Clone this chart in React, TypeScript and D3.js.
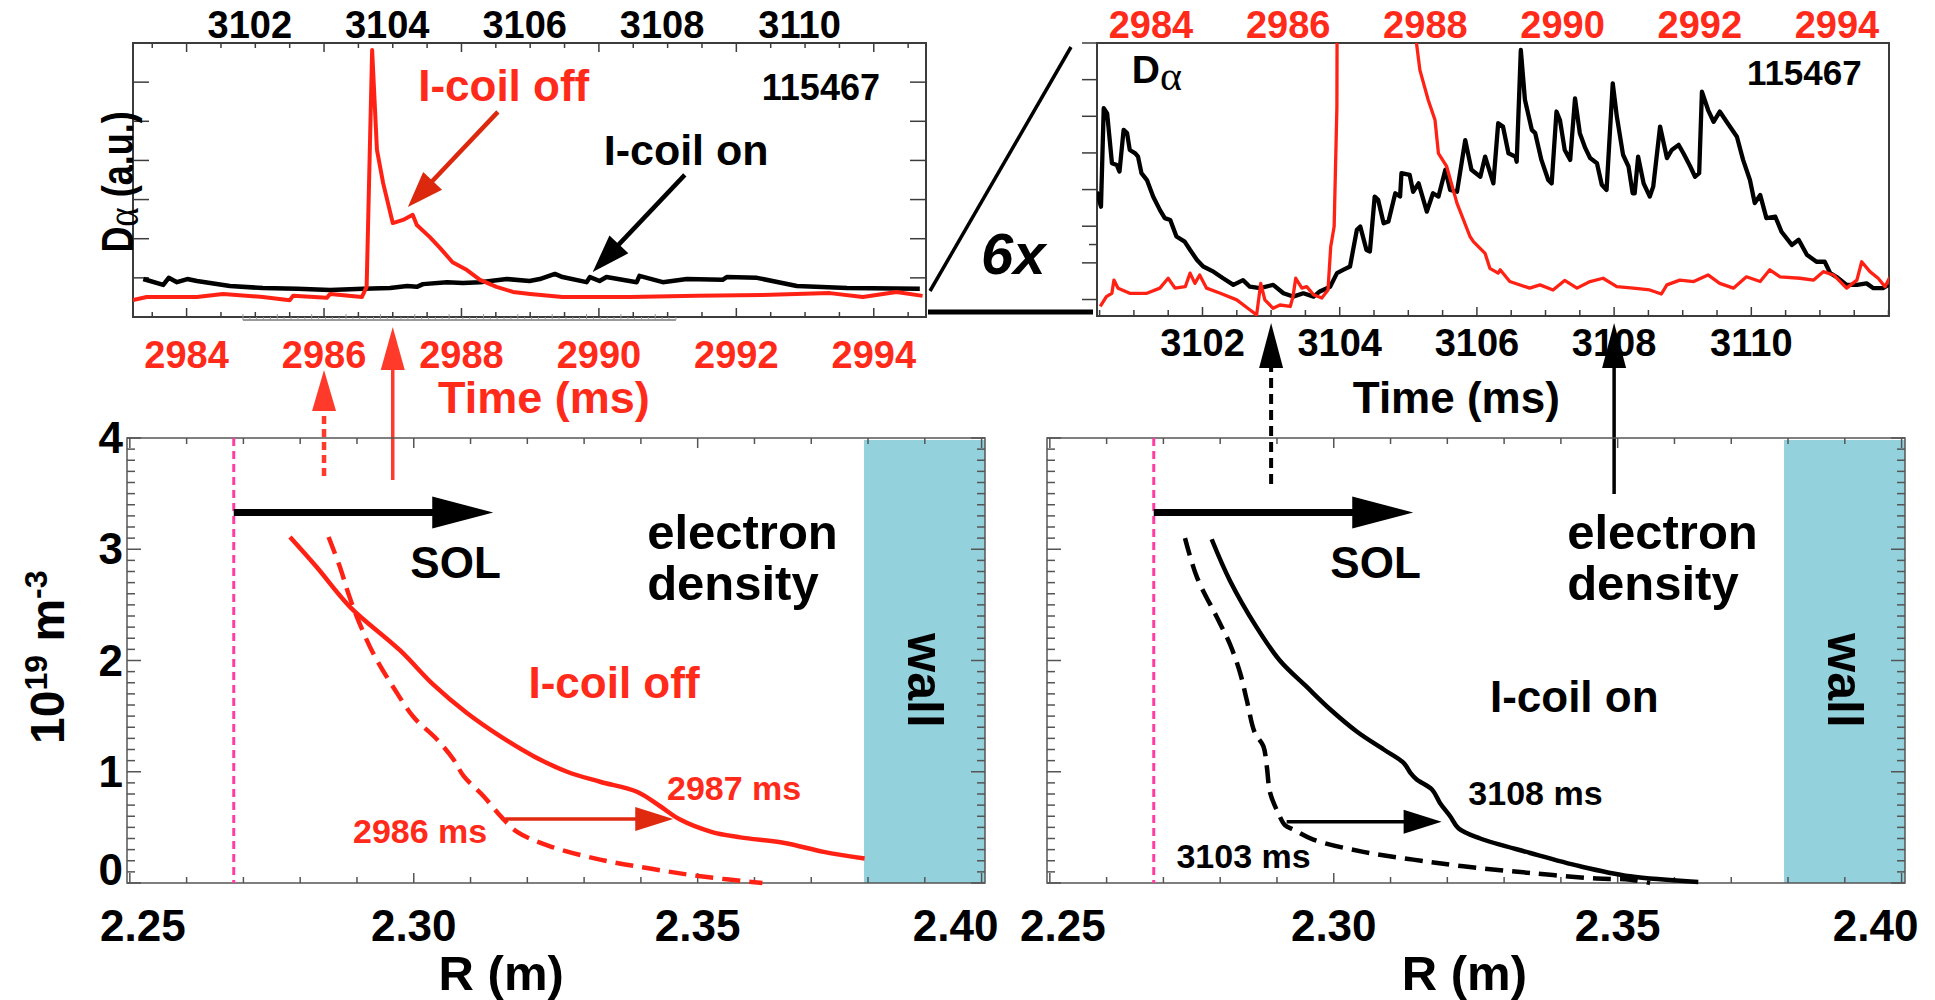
import * as d3 from "d3";

// ---------- axis ticks ----------
const offTicks = [2984, 2986, 2988, 2990, 2992, 2994]; // I-coil off time axis (ms)
const onTicks = [3102, 3104, 3106, 3108, 3110]; // I-coil on time axis (ms)
const rTicks = [2.25, 2.3, 2.35, 2.4];
const nTicks = [0, 1, 2, 3, 4];

// ---------- top left: D-alpha, full scale ----------
const tlOffTime = [2983.22, 2983.42, 2984.15, 2984.53, 2985.11, 2985.5, 2985.55, 2986.04, 2986.09, 2986.55, 2986.62, 2986.7, 2986.77, 2986.86, 2987.0, 2987.15, 2987.29, 2987.35, 2987.54, 2987.69, 2987.87, 2988.08, 2988.27, 2988.51, 2988.75, 2989.0, 2989.47, 2990.45, 2991.42, 2992.38, 2993.36, 2993.84, 2994.33, 2994.71];
const tlOffVal = [0.43, 0.51, 0.51, 0.59, 0.51, 0.43, 0.54, 0.49, 0.59, 0.51, 0.77, 6.82, 4.27, 3.42, 2.4, 2.48, 2.61, 2.35, 2.04, 1.76, 1.4, 1.2, 0.95, 0.77, 0.64, 0.59, 0.51, 0.51, 0.54, 0.56, 0.61, 0.51, 0.64, 0.54];
const tlOnTime = [3100.45, 3100.74, 3100.82, 3100.94, 3101.09, 3101.23, 3101.71, 3102.19, 3102.69, 3103.17, 3103.65, 3104.04, 3104.29, 3104.43, 3104.52, 3104.87, 3105.1, 3105.35, 3105.74, 3106.07, 3106.22, 3106.44, 3106.55, 3106.9, 3106.95, 3107.09, 3107.19, 3107.63, 3107.67, 3108.01, 3108.36, 3108.88, 3108.94, 3109.38, 3109.96, 3110.69, 3111.75];
const tlOnVal = [0.97, 0.82, 1.0, 0.89, 0.97, 0.92, 0.79, 0.74, 0.72, 0.69, 0.72, 0.74, 0.79, 0.77, 0.84, 0.89, 0.87, 0.89, 0.97, 0.92, 0.97, 1.1, 1.02, 0.89, 1.02, 0.92, 1.02, 0.89, 1.05, 0.89, 0.97, 0.95, 1.02, 1.0, 0.79, 0.74, 0.72];

// ---------- top right: D-alpha, 6x ----------
const trOnTime = [3100.46, 3100.52, 3100.56, 3100.61, 3100.68, 3100.75, 3100.79, 3100.85, 3100.9, 3100.94, 3101.02, 3101.06, 3101.11, 3101.19, 3101.28, 3101.38, 3101.45, 3101.53, 3101.62, 3101.74, 3101.82, 3101.92, 3102.01, 3102.16, 3102.3, 3102.45, 3102.59, 3102.69, 3102.84, 3103.03, 3103.18, 3103.32, 3103.47, 3103.62, 3103.71, 3103.86, 3103.96, 3104.05, 3104.15, 3104.25, 3104.3, 3104.39, 3104.44, 3104.51, 3104.56, 3104.64, 3104.71, 3104.81, 3104.88, 3104.9, 3105.02, 3105.07, 3105.15, 3105.27, 3105.36, 3105.44, 3105.54, 3105.61, 3105.71, 3105.83, 3105.92, 3106.05, 3106.12, 3106.24, 3106.31, 3106.38, 3106.46, 3106.56, 3106.58, 3106.64, 3106.7, 3106.8, 3106.85, 3106.94, 3107.04, 3107.09, 3107.16, 3107.21, 3107.28, 3107.36, 3107.43, 3107.5, 3107.58, 3107.65, 3107.75, 3107.82, 3107.89, 3107.98, 3108.04, 3108.13, 3108.21, 3108.27, 3108.3, 3108.35, 3108.43, 3108.52, 3108.57, 3108.67, 3108.77, 3108.84, 3108.94, 3109.01, 3109.11, 3109.18, 3109.24, 3109.28, 3109.37, 3109.45, 3109.54, 3109.64, 3109.79, 3109.88, 3109.98, 3110.05, 3110.13, 3110.22, 3110.35, 3110.44, 3110.59, 3110.69, 3110.81, 3110.95, 3111.07, 3111.15, 3111.24, 3111.39, 3111.54, 3111.68, 3111.78, 3111.92, 3112.0];
const trOnVal = [2.94, 2.53, 5.22, 5.08, 3.72, 3.67, 3.49, 4.63, 4.54, 4.08, 3.99, 3.9, 3.45, 3.26, 2.81, 2.44, 2.22, 2.17, 1.72, 1.58, 1.35, 1.08, 0.9, 0.76, 0.58, 0.4, 0.53, 0.35, 0.31, 0.4, 0.17, 0.08, 0.17, 0.08, 0.22, 0.35, 0.72, 0.81, 0.9, 1.9, 1.99, 1.35, 1.31, 2.81, 2.72, 2.08, 2.13, 2.9, 2.81, 3.45, 3.4, 2.94, 3.17, 2.4, 2.9, 2.81, 3.54, 2.99, 2.94, 4.35, 3.54, 3.35, 3.9, 3.17, 4.81, 4.72, 3.99, 3.9, 3.76, 6.81, 5.45, 4.63, 4.54, 3.81, 3.26, 3.17, 5.13, 4.9, 4.08, 3.81, 5.49, 4.54, 4.13, 3.86, 3.72, 3.13, 2.99, 5.9, 4.99, 3.95, 3.63, 2.9, 2.9, 3.9, 3.17, 2.81, 3.08, 4.72, 3.86, 4.08, 4.22, 3.99, 3.63, 3.35, 3.45, 5.67, 5.17, 4.85, 5.13, 4.85, 4.44, 3.81, 3.26, 2.63, 2.85, 2.22, 2.26, 1.85, 1.49, 1.63, 1.22, 1.03, 1.03, 0.72, 0.62, 0.4, 0.4, 0.44, 0.31, 0.31, 0.4];
const trOffTime = [2983.26, 2983.35, 2983.43, 2983.46, 2983.52, 2983.69, 2983.94, 2984.13, 2984.25, 2984.35, 2984.5, 2984.57, 2984.64, 2984.71, 2984.81, 2985.01, 2985.25, 2985.44, 2985.54, 2985.6, 2985.66, 2985.78, 2985.88, 2986.03, 2986.07, 2986.11, 2986.2, 2986.27, 2986.37, 2986.49, 2986.58, 2986.62, 2986.67, 2986.71, 2986.77, 2986.86, 2987.0, 2987.29, 2987.54, 2987.69, 2987.87, 2987.92, 2988.04, 2988.14, 2988.19, 2988.31, 2988.46, 2988.65, 2988.7, 2988.87, 2988.94, 2989.06, 2989.09, 2989.23, 2989.52, 2989.67, 2989.86, 2990.03, 2990.21, 2990.4, 2990.59, 2990.79, 2991.03, 2991.27, 2991.44, 2991.52, 2991.71, 2991.91, 2992.12, 2992.29, 2992.49, 2992.68, 2992.88, 2993.02, 2993.17, 2993.46, 2993.66, 2993.8, 2993.95, 2994.14, 2994.29, 2994.36, 2994.48, 2994.6, 2994.7, 2994.77];
const trOffVal = [-0.19, 0.08, 0.17, 0.53, 0.31, 0.17, 0.17, 0.31, 0.58, 0.31, 0.35, 0.72, 0.44, 0.67, 0.31, 0.17, -0.01, -0.28, -0.42, 0.44, -0.01, -0.24, -0.15, -0.19, 0.08, 0.58, 0.31, 0.35, 0.13, 0.04, 0.26, 1.44, 1.99, 5.26, 49, 23, 15, 16, 12, 9.8, 7.0, 6.26, 5.45, 4.9, 3.99, 3.63, 2.63, 1.72, 1.58, 1.26, 0.85, 0.72, 0.81, 0.49, 0.31, 0.4, 0.26, 0.52, 0.31, 0.49, 0.58, 0.35, 0.31, 0.26, 0.15, 0.4, 0.53, 0.49, 0.67, 0.44, 0.31, 0.62, 0.49, 0.81, 0.62, 0.58, 0.53, 0.76, 0.67, 0.31, 0.53, 1.03, 0.76, 0.58, 0.35, 0.61];

// ---------- bottom: electron density profiles (1e19 m^-3) ----------
const off2987R = [2.2782, 2.2829, 2.2888, 2.2976, 2.3035, 2.3093, 2.3152, 2.3211, 2.327, 2.3328, 2.3393, 2.3434, 2.3469, 2.3524, 2.3575, 2.3653, 2.3722, 2.3794];
const off2987N = [3.11, 2.84, 2.48, 2.09, 1.78, 1.53, 1.32, 1.14, 1.0, 0.91, 0.82, 0.69, 0.57, 0.46, 0.41, 0.36, 0.28, 0.22];
const off2986R = [2.285, 2.287, 2.2885, 2.29, 2.2929, 2.2964, 2.3, 2.3041, 2.307, 2.3088, 2.3123, 2.3155, 2.3182, 2.324, 2.3328, 2.3416, 2.3505, 2.3614];
const off2986N = [3.11, 2.84, 2.6, 2.39, 2.06, 1.76, 1.49, 1.29, 1.11, 0.96, 0.78, 0.59, 0.46, 0.33, 0.21, 0.13, 0.06, 0.0];
const on3108R = [2.2785, 2.2817, 2.2864, 2.2905, 2.2953, 2.2994, 2.3041, 2.3088, 2.3123, 2.3135, 2.3146, 2.3173, 2.3187, 2.3205, 2.322, 2.3258, 2.3346, 2.3434, 2.3522, 2.3642];
const on3108N = [3.09, 2.72, 2.3, 2.0, 1.76, 1.56, 1.36, 1.2, 1.08, 0.99, 0.93, 0.84, 0.72, 0.6, 0.49, 0.4, 0.27, 0.15, 0.06, 0.01];
const on3103R = [2.2738, 2.2759, 2.2794, 2.2817, 2.2835, 2.2847, 2.2861, 2.2876, 2.2882, 2.2888, 2.2903, 2.2914, 2.2929, 2.2964, 2.3052, 2.314, 2.3228, 2.3346, 2.3463, 2.3522, 2.3557];
const on3103N = [3.1, 2.75, 2.39, 2.15, 1.89, 1.64, 1.35, 1.23, 1.05, 0.81, 0.62, 0.52, 0.48, 0.39, 0.28, 0.21, 0.15, 0.09, 0.04, 0.03, 0.0];
const separatrixR = 2.2683;
const wallR = 2.3793;

// ---------- styles ----------
const SANS = "'Liberation Sans', Arial, Helvetica, sans-serif";
const SERIF = "'Liberation Serif', 'DejaVu Serif', serif";
const RED = "#ff2214";
const RED_TXT = "#ff2a1a";
const RED_ARROW = "#e02a10";
const PINK = "#ff3da0";
const WALL = "#93d2dd";
const AX = "#3c3c3c";
const TICK_FS = 38;

// ---------- scales ----------
const xTL = d3.scaleLinear().domain([2983.22, 2994.76]).range([133, 926]);
const xTLon = d3.scaleLinear().domain([3100.3, 3111.84]).range([133, 926]);
const yTL = d3.scaleLinear().domain([0, 7]).range([317, 43]);
const xTRon = d3.scaleLinear().domain([3100.462, 3112.007]).range([1097, 1889]);
const xTRoff = d3.scaleLinear().domain([2983.213, 2994.758]).range([1097, 1889]);
const yTR = d3.scaleLinear().domain([-0.45, 7]).range([316, 43]);
const xBL = d3.scaleLinear().domain([2.2495, 2.4006]).range([127, 985]);
const xBR = d3.scaleLinear().domain([2.2495, 2.4006]).range([1047, 1905]);
const yB = d3.scaleLinear().domain([0, 4]).range([883, 438]);

const pathOf = (xs: any, ys: any, X: number[], Y: number[], curve: any = d3.curveLinear) =>
  d3.line<number>().x(i => xs(X[i])).y(i => ys(Y[i])).curve(curve)(d3.range(Math.min(X.length, Y.length))) || "";

const Arrow = ({ x1, y1, x2, y2, color, width, head, half, dash }: any) => {
  const L = Math.hypot(x2 - x1, y2 - y1);
  const ux = (x2 - x1) / L, uy = (y2 - y1) / L;
  const bx = x2 - ux * head, by = y2 - uy * head;
  return (
    <g>
      <line x1={x1} y1={y1} x2={bx + ux * 2} y2={by + uy * 2} stroke={color} strokeWidth={width} strokeDasharray={dash} />
      <polygon points={`${x2},${y2} ${bx - uy * half},${by + ux * half} ${bx + uy * half},${by - ux * half}`} fill={color} />
    </g>
  );
};

const ProfilePanel = ({ xs, color, solidR, solidN, dashR, dashN, arrowFrom, arrowTo, labels, yLabels, rLabelAt }: any) => {
  const [x0, x1] = xs.range();
  const yTop = yB(4), yBot = yB(0);
  const lbl = (v: number, i: number) => xs(v) + (i === 0 ? 13 : i === rTicks.length - 1 ? -26 : 0);
  return (
    <g>
      <rect x={xs(wallR)} y={yTop + 2} width={x1 - xs(wallR)} height={yBot - yTop - 2} fill={WALL} />
      <rect x={x0} y={yTop} width={x1 - x0} height={yBot - yTop} fill="none" stroke="#555" strokeWidth={1.5} />
      {d3.range(0, 16).map(i => {
        const x = xs(2.25 + i * 0.01), len = i % 5 === 0 ? 10 : 6;
        return <g key={"x" + i} stroke="#555" strokeWidth={1.5}>
          <line x1={x} x2={x} y1={yBot} y2={yBot - len} />
          <line x1={x} x2={x} y1={yTop} y2={yTop + len} />
        </g>;
      })}
      {d3.range(0, 41).map(i => {
        const y = yB(i * 0.1), len = i % 10 === 0 ? 14 : 8;
        return <g key={"y" + i} stroke="#555" strokeWidth={1.5}>
          <line x1={x0} x2={x0 + len} y1={y} y2={y} />
          <line x1={x1} x2={x1 - len} y1={y} y2={y} />
        </g>;
      })}
      <line x1={xs(separatrixR)} x2={xs(separatrixR)} y1={yTop} y2={yBot} stroke={PINK} strokeWidth={3} strokeDasharray="8 5" />
      <Arrow x1={xs(separatrixR)} y1={yB(3.33)} x2={xs(2.314)} y2={yB(3.33)} color="#000" width={7} head={61} half={16} />
      <text x={xs(2.2994)} y={yB(2.74)} fontSize={44} fontWeight="bold">SOL</text>
      <text x={xs(2.3411)} y={yB(3.0)} fontSize={49} fontWeight="bold">electron</text>
      <text x={xs(2.3411)} y={yB(2.54)} fontSize={49} fontWeight="bold">density</text>
      <text transform={`translate(${(xs(wallR) + x1) / 2},${yB(1.82)}) rotate(90)`} textAnchor="middle" dominantBaseline="central" fontSize={50} fontWeight="bold">wall</text>
      <path d={pathOf(xs, yB, dashR, dashN, d3.curveCatmullRom)} fill="none" stroke={color} strokeWidth={4.5} strokeDasharray="18 9" />
      <path d={pathOf(xs, yB, solidR, solidN, d3.curveCatmullRom)} fill="none" stroke={color} strokeWidth={4.5} />
      <Arrow x1={xs(arrowFrom[0])} y1={yB(arrowFrom[1])} x2={xs(arrowTo[0])} y2={yB(arrowTo[1])}
        color={color === RED ? RED_ARROW : "#000"} width={3.5} head={38} half={12} />
      {labels.map((l: any) => (
        <text key={l.text} x={xs(l.r)} y={yB(l.n)} fontSize={l.size} fontWeight="bold" fill={l.color}>{l.text}</text>
      ))}
      {rTicks.map((v, i) => (
        <text key={v} x={lbl(v, i)} y={941} textAnchor="middle" fontSize={44} fontWeight="bold">{d3.format(".2f")(v)}</text>
      ))}
      <text x={xs(rLabelAt)} y={990} textAnchor="middle" fontSize={49} fontWeight="bold">R (m)</text>
      {yLabels && nTicks.map(v => (
        <text key={v} x={123} y={yB(v) + (v === 0 ? 2 : 15)} textAnchor="end" fontSize={44} fontWeight="bold">{v}</text>
      ))}
    </g>
  );
};

export default function App() {
  const grayTicks = d3.range(3101.9, 3108.21, 0.1);
  return (
    <svg width={1935} height={1000} style={{ position: "absolute", left: 0, top: 0, background: "#fff" }} fontFamily={SANS}>
      <defs>
        <clipPath id="clipTL"><rect x={133} y={43} width={793} height={274} /></clipPath>
        <clipPath id="clipTR"><rect x={1097} y={43} width={792} height={273} /></clipPath>
      </defs>

      {/* ---------------- top left ---------------- */}
      <rect x={133} y={43} width={793} height={274} fill="none" stroke={AX} strokeWidth={2} />
      {d3.range(1, 7).map(v => (
        <g key={v} stroke={AX} strokeWidth={1.5}>
          <line x1={133} x2={149} y1={yTL(v)} y2={yTL(v)} />
          <line x1={910} x2={926} y1={yTL(v)} y2={yTL(v)} />
        </g>
      ))}
      {d3.range(2983.5, 2994.51, 0.5).map(t => {
        const major = offTicks.includes(t);
        return <g key={t} stroke={AX} strokeWidth={1.5}>
          <line x1={xTL(t)} x2={xTL(t)} y1={317} y2={317 - (major ? 9 : 5)} />
          <line x1={xTL(t)} x2={xTL(t)} y1={43} y2={43 + (major ? 9 : 5)} />
        </g>;
      })}
      <line x1={xTLon(3101.9)} x2={xTLon(3108.2)} y1={320} y2={320} stroke="#999" strokeWidth={2} />
      {grayTicks.map((t, i) => (
        <line key={i} x1={xTLon(t)} x2={xTLon(t)} y1={320} y2={i % 5 === 0 ? 314 : 317} stroke="#999" strokeWidth={1} />
      ))}
      <g clipPath="url(#clipTL)" fill="none" strokeLinejoin="round">
        <path d={pathOf(xTLon, yTL, tlOnTime, tlOnVal)} stroke="#000" strokeWidth={4.5} />
        <path d={pathOf(xTL, yTL, tlOffTime, tlOffVal)} stroke={RED} strokeWidth={4} />
      </g>
      {onTicks.map(t => (
        <text key={t} x={xTLon(t)} y={38} textAnchor="middle" fontSize={TICK_FS} fontWeight="bold">{t}</text>
      ))}
      {offTicks.map(t => (
        <text key={t} x={xTL(t)} y={368} textAnchor="middle" fontSize={TICK_FS} fontWeight="bold" fill={RED_TXT}>{t}</text>
      ))}
      <text x={xTL(2989.2)} y={413} textAnchor="middle" fontSize={45} fontWeight="bold" fill={RED_TXT}>Time (ms)</text>
      <text transform="translate(133,182) rotate(-90) scale(0.8,1)" textAnchor="middle" fontSize={45} fontWeight="bold">
        D<tspan fontFamily={SERIF} fontWeight="normal" fontSize={46} dy={5}>α</tspan><tspan dy={-5}> (a.u.)</tspan>
      </text>
      <text x={xTL(2987.37)} y={yTL(5.52)} fontSize={44} fontWeight="bold" fill={RED_TXT}>I-coil off</text>
      <text x={xTL(2990.07)} y={yTL(3.88)} fontSize={43} fontWeight="bold">I-coil on</text>
      <text x={xTL(2994.09)} y={yTL(5.54)} textAnchor="end" fontSize={36} fontWeight="bold">115467</text>
      <Arrow x1={xTL(2988.53)} y1={yTL(5.24)} x2={xTL(2987.22)} y2={yTL(2.81)} color="#dc280c" width={4.5} head={36} half={13} />
      <Arrow x1={xTL(2991.25)} y1={yTL(3.63)} x2={xTL(2989.91)} y2={yTL(1.15)} color="#000" width={4.5} head={38} half={13} />

      {/* ---------------- 6x connector ---------------- */}
      <line x1={1071} y1={47} x2={930} y2={291} stroke="#000" strokeWidth={3.5} />
      <line x1={928} y1={312} x2={1093} y2={312} stroke="#000" strokeWidth={5} />
      <text x={981} y={274} fontSize={58} fontWeight="bold" fontStyle="italic">6x</text>

      {/* ---------------- top right ---------------- */}
      <rect x={1097} y={43} width={792} height={273} fill="none" stroke={AX} strokeWidth={2} />
      {d3.range(0, 8).map(v => (
        <line key={v} x1={1082} x2={1097} y1={yTR(v)} y2={yTR(v)} stroke={AX} strokeWidth={1.5} />
      ))}
      <line x1={1089} x2={1097} y1={yTR(1.5)} y2={yTR(1.5)} stroke={AX} strokeWidth={1.5} />
      {d3.range(3100.5, 3112.01, 0.5).map(t => (
        <line key={t} x1={xTRon(t)} x2={xTRon(t)} y1={316} y2={316 - (onTicks.includes(t) ? 9 : 6)} stroke={AX} strokeWidth={1.5} />
      ))}
      <g clipPath="url(#clipTR)" fill="none" strokeLinejoin="round">
        <path d={pathOf(xTRon, yTR, trOnTime, trOnVal)} stroke="#000" strokeWidth={4.3} />
        <path d={pathOf(xTRoff, yTR, trOffTime, trOffVal)} stroke={RED} strokeWidth={3.3} />
      </g>
      {offTicks.map(t => (
        <text key={t} x={xTRoff(t)} y={38} textAnchor="middle" fontSize={TICK_FS} fontWeight="bold" fill={RED_TXT}>{t}</text>
      ))}
      {onTicks.map(t => (
        <text key={t} x={xTRon(t)} y={356} textAnchor="middle" fontSize={TICK_FS} fontWeight="bold">{t}</text>
      ))}
      <text x={xTRon(3105.7)} y={413} textAnchor="middle" fontSize={44} fontWeight="bold">Time (ms)</text>
      <text x={xTRon(3100.97)} y={yTR(5.91)} fontSize={39} fontWeight="bold">
        D<tspan fontFamily={SERIF} fontWeight="normal" fontSize={42} dy={7}>α</tspan>
      </text>
      <text x={xTRon(3111.61)} y={yTR(5.86)} textAnchor="end" fontSize={35} fontWeight="bold">115467</text>

      {/* ---------------- time markers ---------------- */}
      <Arrow x1={xTL(2986)} y1={476} x2={xTL(2986)} y2={370} color="#ff3a2a" width={4.5} head={41} half={12} dash="8 5" />
      <Arrow x1={xTL(2987)} y1={480} x2={xTL(2987)} y2={327} color="#ff3a2a" width={3.5} head={43} half={12} />
      <Arrow x1={xTRon(3103)} y1={484} x2={xTRon(3103)} y2={323} color="#000" width={4} head={45} half={12} dash="10 6" />
      <Arrow x1={xTRon(3108)} y1={494} x2={xTRon(3108)} y2={323} color="#000" width={3.5} head={45} half={12} />

      {/* ---------------- bottom left ---------------- */}
      <ProfilePanel xs={xBL} color={RED} solidR={off2987R} solidN={off2987N} dashR={off2986R} dashN={off2986N}
        arrowFrom={[2.3161, 0.575]} arrowTo={[2.3457, 0.575]} yLabels rLabelAt={2.3154}
        labels={[
          { text: "I-coil off", r: 2.3202, n: 1.66, size: 44, color: RED_TXT },
          { text: "2986 ms", r: 2.2893, n: 0.36, size: 34, color: RED_TXT },
          { text: "2987 ms", r: 2.3446, n: 0.75, size: 34, color: RED_TXT },
        ]} />
      <text transform={`translate(64,${yB(2.03)}) rotate(-90)`} textAnchor="middle" fontSize={48} fontWeight="bold">
        10<tspan fontSize={32} dy={-17}>19</tspan><tspan dy={17}> m</tspan><tspan fontSize={32} dy={-17}>-3</tspan>
      </text>

      {/* ---------------- bottom right ---------------- */}
      <ProfilePanel xs={xBR} color="#000" solidR={on3108R} solidN={on3108N} dashR={on3103R} dashN={on3103N}
        arrowFrom={[2.2917, 0.55]} arrowTo={[2.319, 0.55]} rLabelAt={2.323}
        labels={[
          { text: "I-coil on", r: 2.3275, n: 1.54, size: 44, color: "#000" },
          { text: "3108 ms", r: 2.3237, n: 0.7, size: 34, color: "#000" },
          { text: "3103 ms", r: 2.2723, n: 0.135, size: 34, color: "#000" },
        ]} />
    </svg>
  );
}
